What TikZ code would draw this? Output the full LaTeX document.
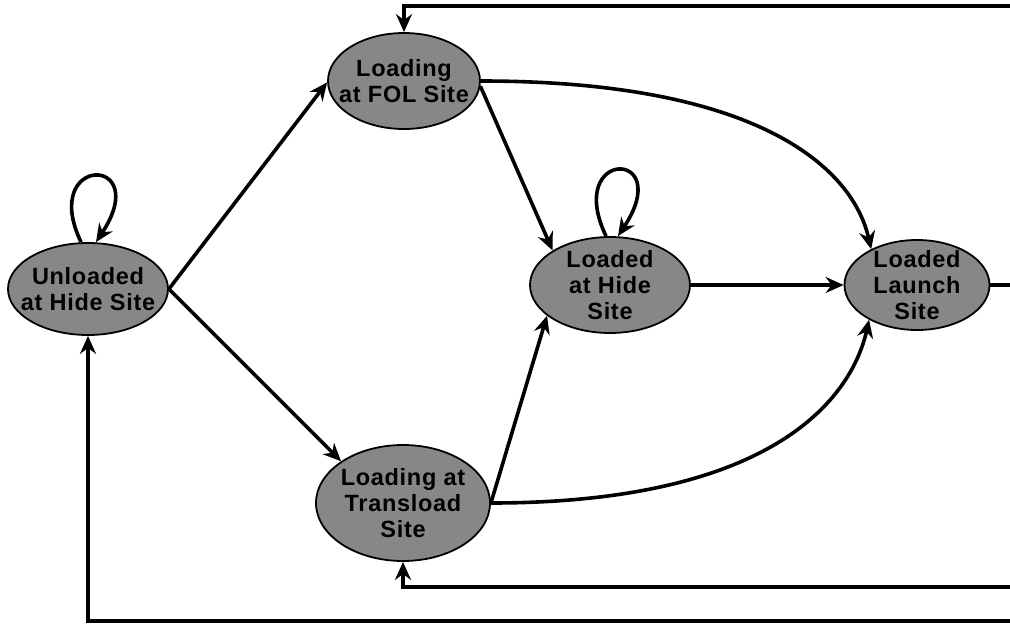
\documentclass[tikz,border=0pt]{standalone}
\usepackage{fontspec}
\setmainfont{Liberation Sans}[LetterSpace=3]
\usetikzlibrary{shapes.geometric,arrows.meta}
\begin{document}
\begin{tikzpicture}[x=1pt,y=-1pt,
  state/.style={ellipse,draw=black,line width=1.8pt,fill=black!47,inner sep=0pt},
  txt/.style={align=center,inner sep=0pt,font=\fontsize{23.5}{26}\selectfont\bfseries},
  arr/.style={line width=3.6pt,-{Stealth[length=18pt,width=16pt,inset=6pt]}},
  ln/.style={line width=3.6pt}]
\useasboundingbox (0,0) rectangle (1010,624);
\node[state,minimum width=160pt,minimum height=92pt,label={[txt]center:Unloaded\\at Hide Site}] (u) at (88,289) {};
\node[state,minimum width=152pt,minimum height=96pt,label={[txt]center:Loading\\at FOL Site}] (f) at (404,81) {};
\node[state,minimum width=160pt,minimum height=96pt,label={[txt]center:Loaded\\at Hide\\Site}] (h) at (610,285) {};
\node[state,minimum width=145pt,minimum height=90pt,label={[txt]center:Loaded\\Launch\\Site}] (l) at (917,285) {};
\node[state,minimum width=174pt,minimum height=116pt,label={[txt]center:Loading at\\Transload\\Site}] (t) at (403,503) {};
\coordinate (rt) at (1010,6);
\coordinate (rm) at (1010,285);
\coordinate (rb1) at (1010,587);
\coordinate (rb2) at (1010,621);
% self loops
\draw[arr] ([xshift=-7pt]u.north) .. controls +(-42,-88) and +(58,-88) .. ([xshift=8pt]u.north);
\draw[arr] ([xshift=-4pt]h.north) .. controls +(-42,-88) and +(58,-88) .. ([xshift=8pt]h.north);
% straight edges
\draw[arr] (u.east) -- (f.181);
\draw[arr] (u.east) -- (t.146);
\draw[arr] (f.-4) -- (h.149);
\draw[arr] (t.east) -- (h.206);
\draw[arr] (h.east) -- (l.west);
% curves
\draw[arr] (f.east) .. controls +(280,0) and +(-18,-80) .. (l.142);
\draw[arr] (t.east) .. controls +(280,0) and +(-18,80) .. (l.216);
% return lines
\draw[ln] (l.east) -- (rm);
\draw[arr] (rt) -| (f.north);
\draw[arr] (rb1) -| (t.south);
\draw[arr] (rb2) -| (u.south);
\end{tikzpicture}
\end{document}
